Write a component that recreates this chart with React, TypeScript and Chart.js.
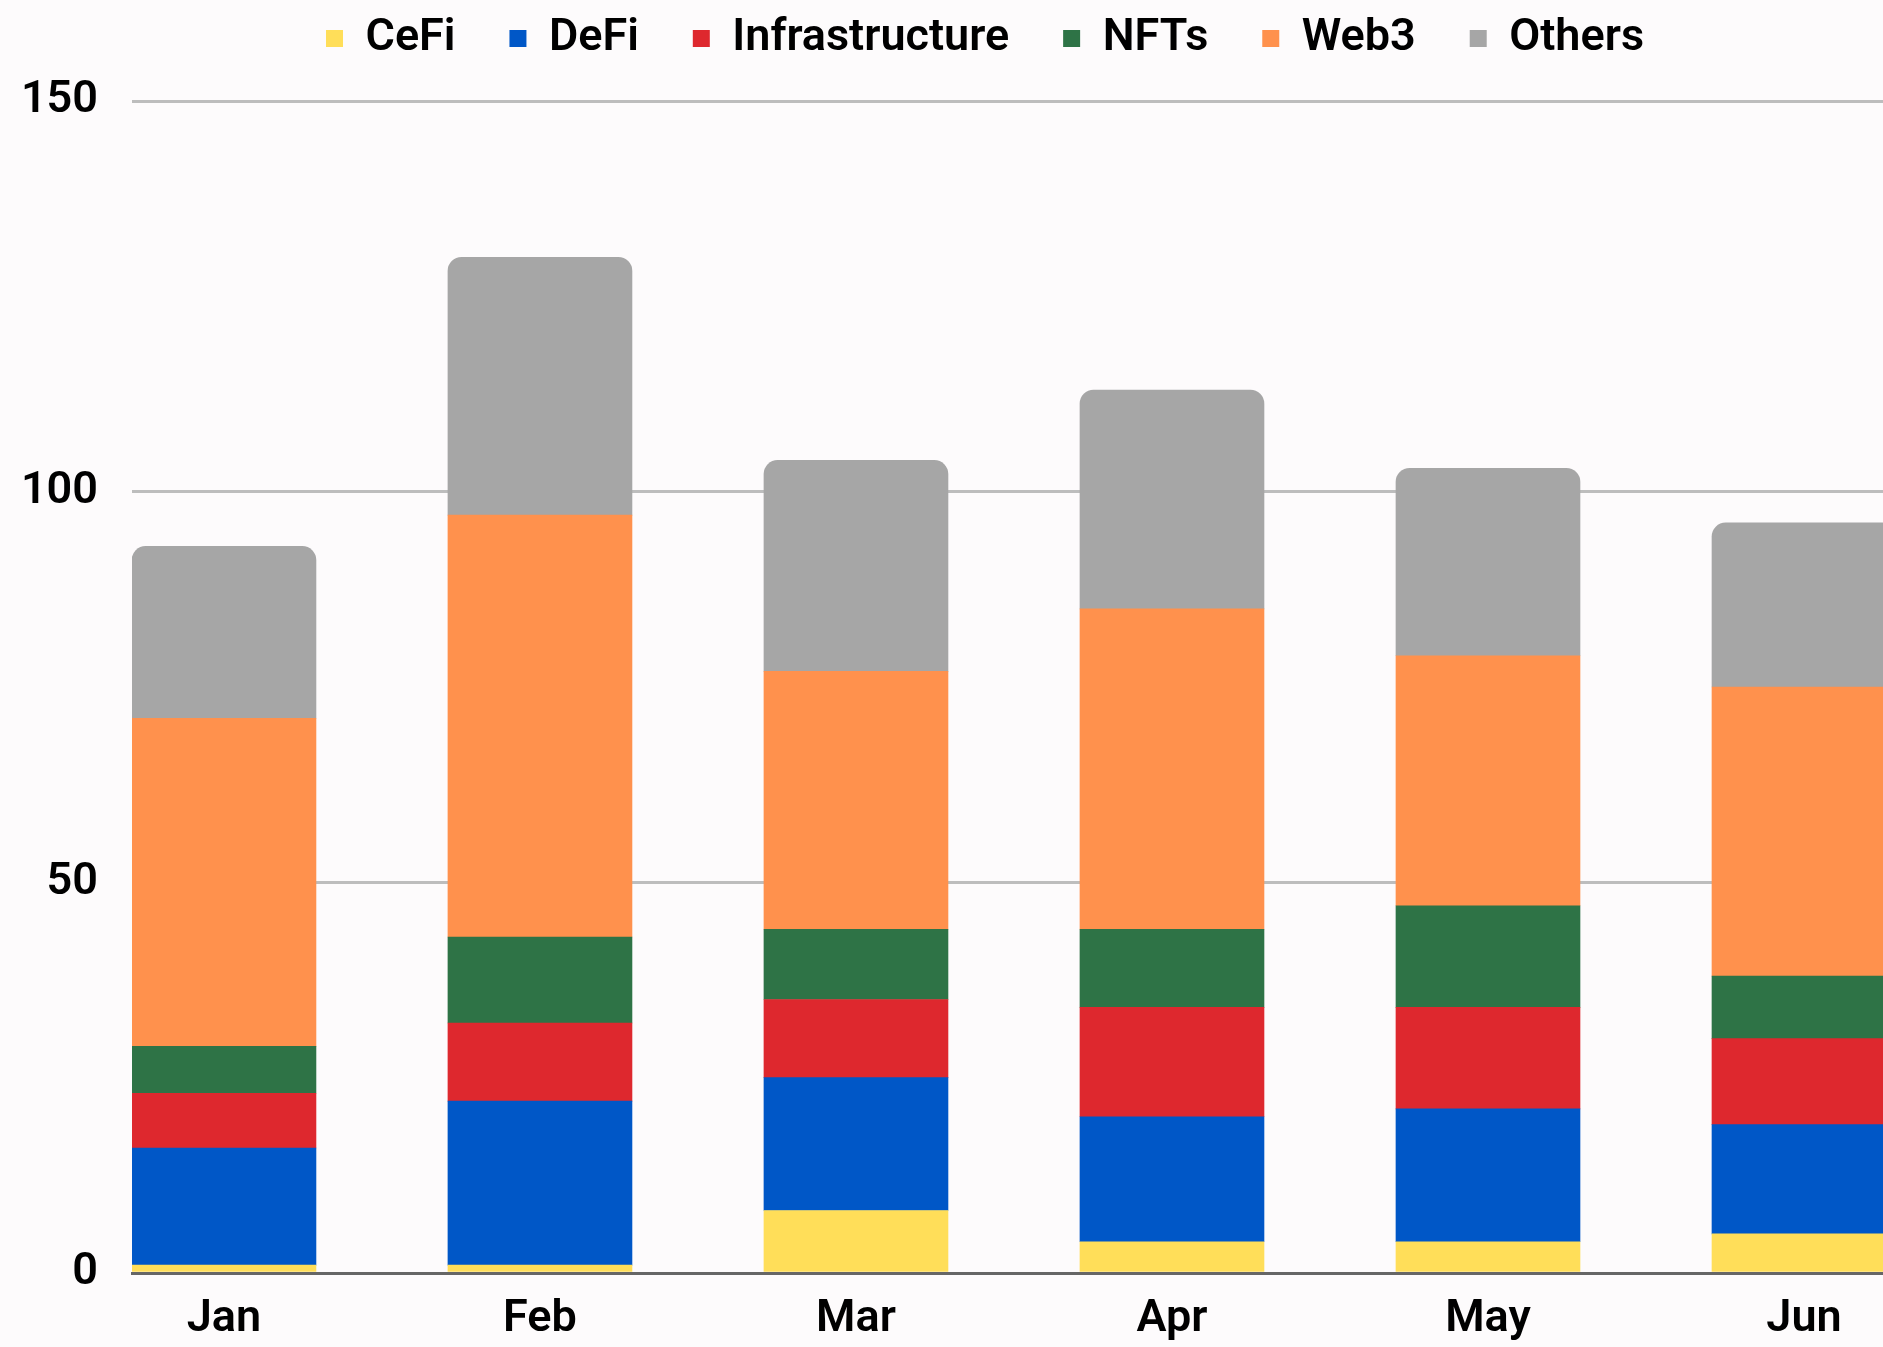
import { useEffect, useRef } from "react";
import { Chart, registerables } from "chart.js";

Chart.register(...registerables);

const months = ["Jan", "Feb", "Mar", "Apr", "May", "Jun"];
const cefi = [1, 1, 8, 4, 4, 5];
const defi = [15, 21, 17, 16, 17, 14];
const infrastructure = [7, 10, 10, 14, 13, 11];
const nfts = [6, 11, 9, 10, 13, 8];
const web3 = [42, 54, 33, 41, 32, 37];
const others = [22, 33, 27, 28, 24, 21];

const seriesNames = ["CeFi", "DeFi", "Infrastructure", "NFTs", "Web3", "Others"];
const seriesColors = ["#FFDE59", "#0057C7", "#DE282E", "#2E7346", "#FF914D", "#A6A6A6"];

const BG = "#fdfbfc";

export default function App() {
  const ref = useRef<HTMLCanvasElement>(null);

  useEffect(() => {
    const canvas = ref.current;
    if (!canvas) return;
    const font = { family: "Roboto", size: 45, weight: 600 as any };
    const all = [cefi, defi, infrastructure, nfts, web3, others];

    const datasets = all.map((values, k) => ({
      label: seriesNames[k],
      data: values.map((v, i) => ({ x: i, y: v })),
      backgroundColor: seriesColors[k],
      borderWidth: 0,
      barThickness: 184,
      borderRadius: k === all.length - 1 ? { topLeft: 14, topRight: 14 } : 0,
    }));

    const bgPlugin = {
      id: "bg",
      beforeDraw(chart: any) {
        const { ctx, width, height } = chart;
        ctx.save();
        ctx.fillStyle = BG;
        ctx.fillRect(0, 0, width, height);
        ctx.restore();
      },
    };

    const legendFit = {
      id: "legendFit",
      beforeInit(chart: any) {
        const lg = chart.legend;
        if (!lg) return;
        const orig = lg.fit;
        lg.fit = function () {
          orig.call(this);
          this.height = 93;
        };
      },
    };

    const chart = new Chart(canvas, {
      type: "bar",
      data: { datasets: datasets as any },
      plugins: [bgPlugin, legendFit],
      options: {
        animation: false,
        responsive: false,
        layout: { padding: 0 },
        plugins: {
          tooltip: { enabled: false },
          legend: {
            position: "top",
            labels: {
              font,
              color: "#000",
              boxWidth: 17,
              boxHeight: 17,
              padding: 8,
              generateLabels: (c: any) => {
                const items = (Chart.defaults.plugins.legend.labels as any).generateLabels(c);
                return items.map((it: any, i: number) => ({
                  ...it,
                  text: i < items.length - 1 ? it.text + "\u2003" : it.text,
                }));
              },
            },
          },
        },
        scales: {
          x: {
            type: "linear",
            offset: false,
            min: -0.291,
            max: 5.5,
            stacked: true,
            grid: { display: false, drawTicks: false, offset: false },
            border: { display: true, color: "#666666", width: 3 },
            ticks: {
              font,
              color: "#000",
              padding: 20,
              autoSkip: false,
              maxRotation: 0,
              callback: (v: any) => months[v as number] ?? "",
            },
            afterBuildTicks: (s: any) => {
              s.ticks = months.map((_, i) => ({ value: i }));
            },
            afterFit: (s: any) => {
              s.height = 74;
            },
          } as any,
          y: {
            min: 0,
            max: 150,
            stacked: true,
            ticks: { stepSize: 50, font, color: "#000", padding: 34 },
            grid: {
              color: (ctx: any) => (ctx.tick && ctx.tick.value === 0 ? "rgba(0,0,0,0)" : "#bdbdbd"),
              lineWidth: 3,
              drawTicks: false,
            },
            border: { display: false },
            afterFit: (s: any) => {
              s.width = 124;
            },
          } as any,
        },
      },
    });

    return () => chart.destroy();
  }, []);

  return (
    <>
      <style>{`html{background:${BG};overflow:hidden} body{background:${BG};}`}</style>
      <canvas
        ref={ref}
        width={1954}
        height={1339}
        style={{ display: "block", position: "fixed", left: 8, top: 8, width: 1954, height: 1339 }}
      />
    </>
  );
}
